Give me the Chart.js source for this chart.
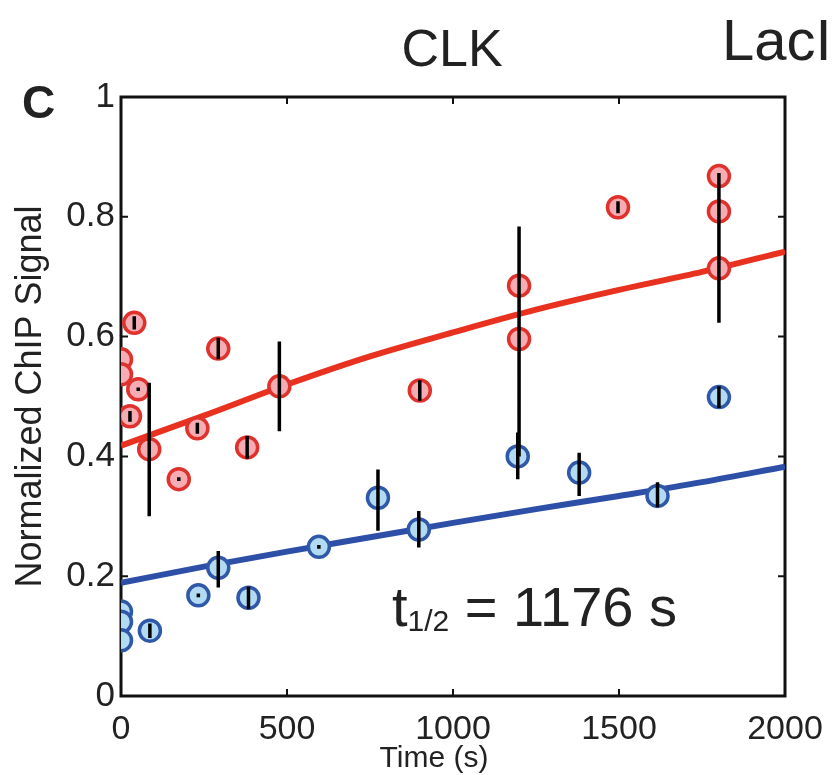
<!DOCTYPE html>
<html lang="en">
<head>
  <meta charset="UTF-8" />
  <title>CLK ChIP signal</title>
  <script src="https://cdn.jsdelivr.net/npm/chart.js"></script>
  <style>
    body {
      margin: 0;
      background: #fff;
    }
    .wrap {
      width: 838px;
      height: 775px;
      position: relative;
    }
  </style>
</head>
<body>
  <div class="wrap">
    <canvas id="chipChart"></canvas>
  </div>

  <script>
    const FONT = "'Liberation Sans', Arial, sans-serif";

    // red (upper) series: time, signal, error bar low / high
    const redTime = [0, 0, 27, 40, 52, 85, 174, 230, 293, 380, 477, 900, 1199, 1199, 1497, 1801, 1801, 1801];
    const redSignal = [0.562, 0.537, 0.467, 0.623, 0.512, 0.412, 0.362, 0.447, 0.58, 0.415, 0.517, 0.51, 0.685, 0.596, 0.816, 0.868, 0.809, 0.714];
    const redLow = [null, null, 0.458, 0.612, 0.509, 0.30, 0.359, 0.438, 0.562, 0.396, 0.442, 0.493, null, 0.40, 0.806, null, null, 0.623];
    const redHigh = [null, null, 0.476, 0.634, 0.515, 0.523, 0.365, 0.456, 0.598, 0.434, 0.592, 0.527, null, 0.784, 0.826, null, null, 0.873];

    // blue (lower) series
    const blueTime = [0, 0, 0, 87, 233, 293, 384, 596, 774, 897, 1195, 1380, 1616, 1801];
    const blueSignal = [0.141, 0.124, 0.093, 0.109, 0.168, 0.214, 0.164, 0.249, 0.331, 0.278, 0.40, 0.373, 0.334, 0.499];
    const blueLow = [null, null, null, 0.097, 0.165, 0.181, 0.145, 0.246, 0.276, 0.248, 0.362, 0.334, 0.315, 0.481];
    const blueHigh = [null, null, null, 0.121, 0.171, 0.242, 0.183, 0.252, 0.378, 0.309, 0.44, 0.406, 0.357, 0.517];

    // fitted curves
    const fitTime = [0, 250, 500, 750, 1000, 1250, 1500, 1750, 2000];
    const redFit = [0.418, 0.468, 0.52, 0.567, 0.607, 0.645, 0.678, 0.708, 0.742];
    const blueFit = [0.189, 0.216, 0.241, 0.265, 0.289, 0.312, 0.334, 0.357, 0.383];

    const xTicks = [0, 500, 1000, 1500, 2000];
    const yTicks = [0, 0.2, 0.4, 0.6, 0.8, 1];

    const pts = (xs, ys) => xs.map((x, i) => ({ x: x, y: ys[i] }));

    // box, inward ticks, error bars and free text, matlab style
    const framePlugin = {
      id: 'frame',
      beforeDatasetsDraw(chart) {
        const { ctx, chartArea: a, scales } = chart;
        ctx.save();
        ctx.strokeStyle = '#111';
        ctx.lineWidth = 3;
        ctx.strokeRect(a.left, a.top, a.right - a.left, a.bottom - a.top);
        ctx.lineWidth = 2;
        ctx.beginPath();
        xTicks.slice(1, -1).forEach(v => {
          const px = scales.x.getPixelForValue(v);
          ctx.moveTo(px, a.bottom); ctx.lineTo(px, a.bottom - 7);
          ctx.moveTo(px, a.top); ctx.lineTo(px, a.top + 7);
        });
        yTicks.slice(1, -1).forEach(v => {
          const py = scales.y.getPixelForValue(v);
          ctx.moveTo(a.left, py); ctx.lineTo(a.left + 7, py);
          ctx.moveTo(a.right, py); ctx.lineTo(a.right - 7, py);
        });
        ctx.stroke();
        ctx.restore();
      },
      afterDatasetsDraw(chart) {
        const { ctx, scales } = chart;
        ctx.save();
        ctx.strokeStyle = '#000';
        ctx.lineWidth = 3.5;
        ctx.beginPath();
        [[redTime, redLow, redHigh], [blueTime, blueLow, blueHigh]].forEach(([ts, lo, hi]) => {
          ts.forEach((t, i) => {
            if (lo[i] == null) return;
            const px = scales.x.getPixelForValue(t);
            ctx.moveTo(px, scales.y.getPixelForValue(lo[i]));
            ctx.lineTo(px, scales.y.getPixelForValue(hi[i]));
          });
        });
        ctx.stroke();
        ctx.restore();
      },
      afterDraw(chart) {
        const { ctx } = chart;
        ctx.save();
        ctx.fillStyle = '#222';
        ctx.textBaseline = 'alphabetic';
        ctx.textAlign = 'center';
        ctx.font = '52px ' + FONT;
        ctx.fillText('CLK', 452, 66);
        ctx.font = '30px ' + FONT;
        ctx.fillText('Time (s)', 434, 767);
        ctx.textAlign = 'left';
        ctx.font = '58px ' + FONT;
        ctx.fillText('LacI', 722, 60);
        ctx.font = 'bold 46px ' + FONT;
        ctx.fillText('C', 22, 118);

        // t1/2 annotation
        let x = 392;
        const base = 626;
        ctx.font = '56px ' + FONT;
        ctx.fillText('t', x, base);
        x += ctx.measureText('t').width;
        ctx.font = '30px ' + FONT;
        ctx.fillText('1/2', x, base + 5);
        x += ctx.measureText('1/2').width;
        ctx.font = '56px ' + FONT;
        ctx.fillText(' = 1176 s', x, base);
        ctx.restore();
      }
    };

    new Chart(document.getElementById('chipChart'), {
      type: 'scatter',
      data: {
        datasets: [
          {
            label: 'red fit',
            type: 'line',
            data: pts(fitTime, redFit),
            borderColor: '#e8321f',
            borderWidth: 6,
            pointRadius: 0,
            cubicInterpolationMode: 'monotone',
            order: 3
          },
          {
            label: 'blue fit',
            type: 'line',
            data: pts(fitTime, blueFit),
            borderColor: '#2e4fa8',
            borderWidth: 6,
            pointRadius: 0,
            cubicInterpolationMode: 'monotone',
            order: 3
          },
          {
            label: 'red',
            data: pts(redTime, redSignal),
            pointRadius: 10.5,
            pointBorderWidth: 3.5,
            borderColor: '#e0322d',
            backgroundColor: '#f5acb2',
            order: 1
          },
          {
            label: 'blue',
            data: pts(blueTime, blueSignal),
            pointRadius: 10.5,
            pointBorderWidth: 3.5,
            borderColor: '#2f58a8',
            backgroundColor: '#b3daf3',
            order: 1
          }
        ]
      },
      options: {
        responsive: true,
        maintainAspectRatio: false,
        animation: false,
        layout: { padding: { top: 97, right: 53, left: 0, bottom: 0 } },
        plugins: {
          legend: { display: false },
          tooltip: { enabled: false }
        },
        scales: {
          x: {
            type: 'linear',
            min: 0,
            max: 2000,
            afterFit: s => { s.height = 79; },
            afterBuildTicks: s => { s.ticks = xTicks.map(v => ({ value: v })); },
            grid: { display: false, drawTicks: false },
            border: { display: false },
            ticks: {
              color: '#222',
              padding: 13,
              maxRotation: 0,
              font: { family: FONT, size: 34 },
              callback: v => String(v)
            }
          },
          y: {
            min: 0,
            max: 1,
            afterFit: s => { s.width = 121; },
            afterBuildTicks: s => { s.ticks = yTicks.map(v => ({ value: v })); },
            grid: { display: false, drawTicks: false },
            border: { display: false },
            ticks: {
              color: '#222',
              padding: 6,
              font: { family: FONT, size: 35 },
              callback: v => String(Math.round(v * 10) / 10)
            },
            title: {
              display: true,
              text: 'Normalized ChIP Signal',
              color: '#222',
              padding: { top: 9, bottom: 0 },
              font: { family: FONT, size: 36 }
            }
          }
        }
      },
      plugins: [framePlugin]
    });
  </script>
</body>
</html>
